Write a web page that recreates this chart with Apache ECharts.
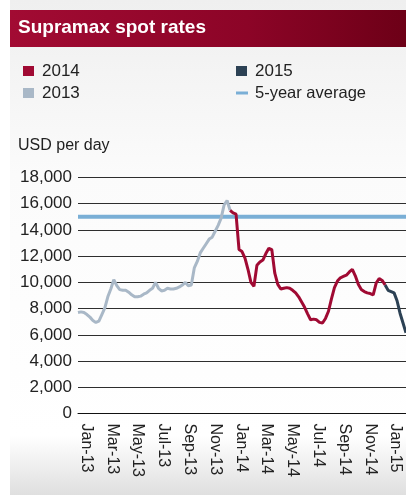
<!DOCTYPE html>
<html>
<head>
<meta charset="utf-8">
<script src="https://cdn.jsdelivr.net/npm/echarts@6/dist/echarts.min.js"></script>
<style>
  html, body { margin: 0; padding: 0; background: #fff; }
  #chart { width: 406px; height: 495px; }
</style>
</head>
<body>
<div id="chart"></div>
<script>
// weekly spot rates, USD per day (week 0 = first week of 2013)
const rates2013 = [7700, 7750, 7700, 7550, 7350, 7100, 6950, 7050, 7550, 8050,
    8900, 9500, 10200, 9750, 9450, 9400, 9400, 9250, 9050, 8900,
    8900, 8950, 9100, 9200, 9400, 9550, 10000, 9550, 9350, 9400,
    9550, 9500, 9500, 9550, 9650, 9800, 10000, 9750, 9800, 11100,
    11600, 12250, 12600, 12950, 13300, 13450, 13900, 14350, 14900, 15900,
    16250, 15500];
const rates2014 = [15300, 15200, 12500, 12350, 11850, 11000, 10000, 9700, 11300, 11550,
    11700, 12200, 12600, 12500, 10700, 9850, 9500, 9550, 9600, 9550,
    9400, 9200, 8900, 8500, 8100, 7600, 7150, 7200, 7150, 6950,
    6900, 7250, 7800, 8750, 9600, 10100, 10350, 10450, 10550, 10800,
    11000, 10500, 9850, 9450, 9300, 9200, 9150, 9050, 9950, 10300,
    10150, 9800];
const rates2015 = [9400, 9300, 9200, 8600, 7650, 6900, 6150];
const fiveYearAvg = 15000;

// x tick labels and where they sit (in weeks)
const tickLabels = ['Jan-13', 'Mar-13', 'May-13', 'Jul-13', 'Sep-13', 'Nov-13',
    'Jan-14', 'Mar-14', 'May-14', 'Jul-14', 'Sep-14', 'Nov-14', 'Jan-15'];
const tickWeeks = [2.7, 11.4, 20.0, 28.7, 37.3, 46.0, 54.7, 63.3, 72.0, 80.7, 89.3, 98.0, 106.6];

const dom = document.getElementById('chart');
const myChart = echarts.init(dom);

// turn a weekly list into [week, value] pairs
function toPairs(list, startWeek) {
    return list.map((v, i) => [startWeek + i, v]);
}

const s2013 = toPairs(rates2013, 0);
// join each year to the end of the previous one
const s2014 = toPairs([rates2013[rates2013.length - 1]].concat(rates2014), 51);
const s2015 = toPairs([rates2014[rates2014.length - 1]].concat(rates2015), 103);
const xMax = 110;

const font = 'Liberation Sans, Arial, sans-serif';

function lineSeries(name, data, color, width) {
    return {
        name: name,
        type: 'line',
        data: data,
        showSymbol: false,
        symbol: 'none',
        animation: false,
        itemStyle: { color: color },
        lineStyle: { color: color, width: width }
    };
}

const option = {
    backgroundColor: '#ffffff',
    animation: false,
    graphic: [
        {
            type: 'rect',
            left: 10, top: 0, z: -10,
            shape: { width: 396, height: 495 },
            style: {
                fill: new echarts.graphic.LinearGradient(0, 0, 0, 1, [
                    { offset: 0, color: '#efefef' },
                    { offset: 0.35, color: '#fbfbfb' },
                    { offset: 0.88, color: '#ffffff' },
                    { offset: 1, color: '#dfdfdf' }
                ])
            }
        },
        {
            type: 'rect',
            left: 10, top: 10, z: -5,
            shape: { width: 396, height: 37 },
            style: {
                fill: new echarts.graphic.LinearGradient(0, 0, 1, 0, [
                    { offset: 0, color: '#a20b33' },
                    { offset: 0.6, color: '#8c0427' },
                    { offset: 1, color: '#6d0017' }
                ])
            }
        }
    ],
    title: [
        {
            text: 'Supramax spot rates',
            left: 13, top: 13,
            textStyle: { color: '#ffffff', fontSize: 19, fontWeight: 'bold', fontFamily: font }
        },
        {
            text: 'USD per day',
            left: 13, top: 133,
            textStyle: { color: '#222222', fontSize: 16, fontWeight: 'normal', fontFamily: font }
        }
    ],
    legend: [
        {
            data: ['2014', '2013'],
            orient: 'vertical',
            left: 18, top: 56,
            icon: 'rect',
            itemWidth: 11, itemHeight: 10, itemGap: 2,
            textStyle: { color: '#222', fontSize: 17, lineHeight: 20, fontFamily: font, padding: [0, 0, 0, 3] }
        },
        {
            data: ['2015'],
            orient: 'vertical',
            left: 231, top: 56,
            icon: 'rect',
            itemWidth: 11, itemHeight: 10,
            textStyle: { color: '#222', fontSize: 17, lineHeight: 20, fontFamily: font, padding: [0, 0, 0, 3] }
        },
        {
            data: ['5-year average'],
            orient: 'vertical',
            left: 231, top: 78,
            icon: 'rect',
            itemWidth: 12, itemHeight: 3,
            textStyle: { color: '#222', fontSize: 16.5, lineHeight: 20, fontFamily: font, padding: [0, 0, 0, 2] }
        }
    ],
    grid: { left: 78, right: 0, top: 177.5, bottom: 81.5 },
    xAxis: {
        type: 'value',
        min: 0,
        max: xMax,
        splitLine: { show: false },
        axisTick: { show: false },
        axisLine: { show: true, lineStyle: { color: '#111', width: 1 } },
        axisLabel: {
            customValues: tickWeeks,
            rotate: -90,
            margin: 10,
            color: '#222',
            fontSize: 16,
            fontFamily: font,
            formatter: function (v) {
                const i = tickWeeks.indexOf(v);
                return i >= 0 ? tickLabels[i] : '';
            }
        }
    },
    yAxis: {
        type: 'value',
        min: 0,
        max: 18000,
        interval: 2000,
        axisLine: { show: false },
        axisTick: { show: false },
        splitLine: { show: true, lineStyle: { color: '#2e2e2e', width: 1 } },
        axisLabel: {
            margin: 6,
            color: '#222',
            fontSize: 17,
            fontFamily: font,
            formatter: function (v) { return v.toLocaleString('en-US'); }
        }
    },
    series: [
        lineSeries('5-year average', [[0, fiveYearAvg], [xMax, fiveYearAvg]], '#7aafd6', 4),
        lineSeries('2013', s2013, '#a9b8c7', 3),
        lineSeries('2014', s2014, '#a00a33', 3),
        lineSeries('2015', s2015, '#2c4154', 3)
    ]
};

myChart.setOption(option);

window.addEventListener('resize', function () {
    myChart.resize();
});
</script>
</body>
</html>
